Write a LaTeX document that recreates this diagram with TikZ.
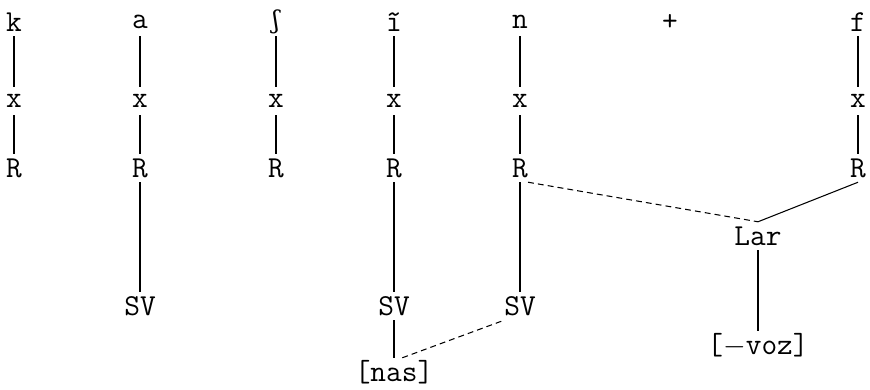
\documentclass[tikz,border=0pt]{standalone}
\usepackage{fontspec}
\usepackage{tikz}
\usetikzlibrary{positioning}
\newfontfamily\ipafont{DejaVu Serif}

\begin{document}
\begin{tikzpicture}[
  x=0.03cm, y=-0.03cm,
  seg/.style={inner sep=0pt, minimum height=0.84cm,
    font=\ttfamily\fontsize{26}{30}\selectfont},
  tie/.style={line width=0.9pt},
  spread/.style={line width=0.9pt, dash pattern=on 5pt off 3.5pt},
]
  \useasboundingbox (0,0) rectangle (870,389);

  % segment tier
  \node[seg] (kT) at (14,22)  {k};
  \node[seg] (aT) at (140,22) {a};
  \node[seg] (sT) at (276,22) {\ipafont\fontsize{21}{25}\selectfont ʃ};
  \node[seg] (iT) at (394,22) {ĩ};
  \node[seg] (nT) at (520,22) {n};
  \node[seg] (plus) at (670,22) {+};
  \node[seg] (fT) at (858,22) {f};

  % timing slots
  \node[seg] (kX) at (14,101)  {x};
  \node[seg] (aX) at (140,101) {x};
  \node[seg] (sX) at (276,101) {x};
  \node[seg] (iX) at (394,101) {x};
  \node[seg] (nX) at (520,101) {x};
  \node[seg] (fX) at (858,101) {x};

  % root nodes
  \node[seg] (kR) at (14,168)  {R};
  \node[seg] (aR) at (140,168) {R};
  \node[seg] (sR) at (276,168) {R};
  \node[seg] (iR) at (394,168) {R};
  \node[seg] (nR) at (520,168) {R};
  \node[seg] (fR) at (858,168) {R};

  % lower features
  \node[seg] (aSV) at (140,306) {SV};
  \node[seg] (iSV) at (394,306) {SV};
  \node[seg] (nSV) at (520,306) {SV};
  \node[seg] (nas) at (394,372) {[nas]};
  \node[seg] (lar) at (758,236) {Lar};
  \node[seg] (voz) at (758,345) {[$-$voz]};

  \draw[tie] (kT) -- (kX) -- (kR);
  \draw[tie] (aT) -- (aX) -- (aR) -- (aSV);
  \draw[tie] (sT) -- (sX) -- (sR);
  \draw[tie] (iT) -- (iX) -- (iR) -- (iSV) -- (nas);
  \draw[tie] (nT) -- (nX) -- (nR) -- (nSV);
  \draw[tie] (fT) -- (fX) -- (fR);
  \draw[tie] (fR.south) -- (lar.north);
  \draw[tie] (lar) -- (voz);

  \draw[spread] (nR.south east) -- (lar.north);
  \draw[spread] ([xshift=0.25cm]nas.north) -- (nSV.south west);
\end{tikzpicture}
\end{document}
